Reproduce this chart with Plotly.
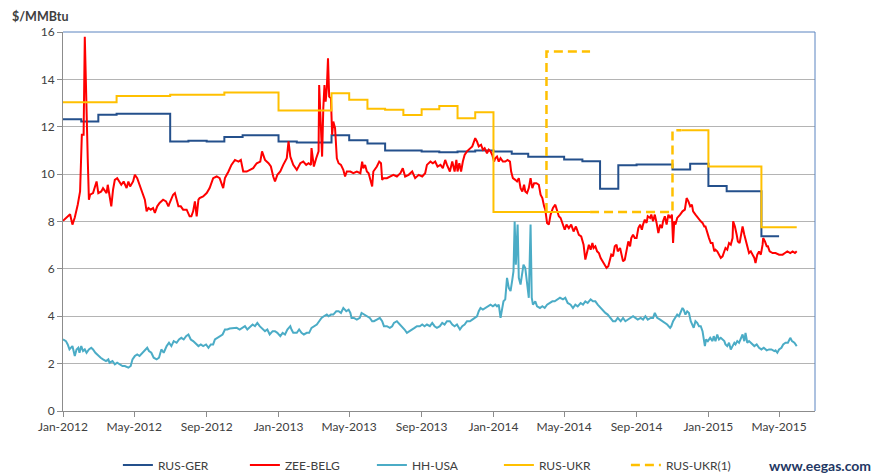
import pandas as pd
import plotly.graph_objects as go

BASE = pd.Timestamp("2012-01-01")

# ---- daily-ish spot series: (days since 1 Jan 2012, $/MMBtu) ----
zee_belg = [
    (0, 8.03), (8, 8.22), (12, 8.31), (16, 7.87), (20, 8.17), (25, 8.71), (29, 9.27), (32, 11.66),
    (35, 11.66), (37, 15.8), (40, 11.66), (42, 10.67), (44, 8.92), (46, 9.13), (51, 9.2), (54, 9.41),
    (57, 9.69), (60, 9.2), (65, 9.27), (68, 9.41), (74, 9.2), (76, 9.55), (79, 9.13), (82, 8.64),
    (85, 9.34), (88, 9.76), (92, 9.83), (95, 9.69), (99, 9.55), (103, 9.69), (108, 9.41), (111, 9.69),
    (114, 9.48), (119, 9.69), (122, 9.97), (126, 9.83), (130, 9.55), (135, 9.27), (139, 8.92), (142, 8.43),
    (145, 8.57), (149, 8.5), (153, 8.57), (156, 8.36), (160, 8.64), (164, 8.78), (170, 8.92), (175, 8.85),
    (179, 8.64), (181, 8.78), (187, 9.13), (190, 9.2), (193, 8.92), (196, 8.64), (200, 8.64), (204, 8.5),
    (210, 8.5), (215, 8.22), (218, 8.22), (221, 8.43), (224, 8.85), (227, 8.22), (230, 8.92), (232, 8.99),
    (238, 9.06), (244, 9.2), (249, 9.41), (255, 9.83), (261, 9.9), (266, 9.83), (272, 9.41), (275, 9.83),
    (281, 10.11), (286, 10.39), (292, 10.6), (298, 10.53), (302, 10.6), (306, 10.11), (312, 10.11), (318, 10.18),
    (323, 10.25), (329, 10.46), (335, 10.53), (338, 10.96), (343, 10.6), (349, 10.46), (353, 10.32), (357, 9.9),
    (360, 9.69), (364, 9.97), (369, 10.11), (374, 10.39), (380, 10.67), (383, 11.38), (386, 10.74), (388, 10.6),
    (391, 10.39), (397, 10.18), (403, 10.46), (408, 10.53), (413, 10.39), (417, 10.46), (421, 10.39), (422, 11.1),
    (425, 10.46), (426, 10.32), (430, 10.67), (434, 10.96), (435, 13.76), (438, 11.38), (440, 10.74), (442, 12.78),
    (444, 13.76), (446, 13.06), (448, 13.62), (450, 14.89), (452, 13.27), (455, 13.2), (457, 11.66), (459, 12.22),
    (462, 11.94), (465, 10.67), (468, 10.46), (472, 10.39), (476, 10.18), (479, 9.9), (482, 10.11), (488, 10.11),
    (493, 10.04), (499, 10.11), (505, 10.04), (508, 10.53), (510, 10.25), (513, 10.39), (516, 10.11), (519, 10.04),
    (522, 9.76), (525, 9.48), (527, 10.11), (533, 10.32), (537, 10.53), (540, 10.46), (542, 9.76), (544, 9.83),
    (550, 9.83), (556, 9.9), (561, 9.97), (567, 9.9), (573, 10.04), (577, 10.25), (581, 9.9), (587, 9.97),
    (593, 10.11), (598, 9.83), (604, 9.97), (610, 9.9), (615, 10.04), (618, 10.39), (624, 10.53), (628, 10.46),
    (632, 10.53), (636, 10.32), (641, 10.39), (645, 10.25), (649, 10.6), (652, 10.39), (657, 10.11), (661, 10.53),
    (665, 10.11), (668, 10.6), (670, 10.11), (673, 10.46), (676, 10.11), (679, 10.53), (682, 10.81), (686, 10.96),
    (691, 11.1), (695, 11.17), (697, 11.31), (700, 11.52), (703, 11.38), (706, 11.17), (710, 11.24), (713, 11.03),
    (716, 11.1), (720, 10.88), (723, 11.03), (726, 10.96), (729, 10.81), (732, 10.53), (734, 10.67), (737, 10.74),
    (740, 10.53), (743, 10.67), (747, 10.53), (751, 10.53), (755, 10.6), (759, 10.53), (761, 10.11), (764, 9.83),
    (768, 9.76), (771, 9.69), (774, 9.83), (777, 9.41), (780, 9.27), (783, 9.55), (785, 9.27), (788, 9.2),
    (791, 9.41), (794, 9.83), (797, 9.41), (800, 9.62), (804, 9.62), (808, 9.55), (811, 9.13), (814, 8.99),
    (817, 8.64), (819, 8.5), (822, 7.94), (825, 7.87), (828, 8.29), (832, 8.57), (836, 8.71), (839, 8.43),
    (842, 8.22), (845, 8.15), (849, 7.87), (852, 7.65), (855, 7.87), (859, 7.72), (863, 7.87), (867, 7.58),
    (871, 7.79), (876, 7.44), (880, 7.37), (884, 7.02), (887, 6.39), (890, 6.74), (893, 7.02), (896, 6.81),
    (899, 7.09), (901, 6.88), (904, 6.95), (907, 6.74), (910, 6.67), (913, 6.46), (916, 6.32), (920, 6.18),
    (923, 6.04), (926, 6.11), (929, 6.46), (931, 6.6), (934, 6.53), (937, 6.95), (940, 7.02), (942, 6.74),
    (946, 6.88), (949, 6.6), (951, 6.32), (954, 6.39), (957, 6.88), (960, 7.16), (963, 6.95), (965, 7.3),
    (968, 7.44), (971, 7.3), (974, 7.3), (977, 7.72), (980, 7.87), (983, 7.65), (985, 7.87), (988, 8.08),
    (991, 7.94), (993, 8.22), (997, 8.15), (999, 8.29), (1002, 8.01), (1005, 8.29), (1008, 7.94), (1011, 7.51),
    (1014, 7.87), (1017, 7.72), (1019, 8.01), (1022, 8.22), (1025, 7.87), (1028, 8.29), (1031, 8.15), (1034, 8.29),
    (1036, 7.09), (1038, 8.01), (1040, 7.87), (1043, 8.15), (1048, 8.29), (1052, 8.43), (1056, 8.5), (1059, 8.99),
    (1062, 8.85), (1065, 8.64), (1068, 8.71), (1070, 8.43), (1074, 8.29), (1078, 8.15), (1083, 8.01), (1086, 7.94),
    (1089, 7.79), (1091, 7.79), (1094, 7.51), (1097, 7.3), (1100, 7.09), (1103, 7.09), (1106, 6.74), (1108, 6.81),
    (1111, 6.74), (1114, 6.6), (1117, 6.46), (1120, 6.53), (1123, 6.74), (1125, 6.88), (1128, 6.81), (1131, 7.09),
    (1134, 7.02), (1137, 7.3), (1138, 8.01), (1141, 7.79), (1144, 7.44), (1146, 7.16), (1149, 7.09), (1152, 7.58),
    (1154, 7.79), (1157, 7.44), (1159, 7.23), (1162, 6.95), (1165, 6.67), (1168, 6.74), (1171, 6.6), (1174, 6.46),
    (1176, 6.25), (1179, 6.6), (1182, 6.74), (1185, 6.6), (1188, 7.02), (1189, 7.3), (1192, 7.16), (1195, 6.95),
    (1197, 6.95), (1200, 6.74), (1205, 6.67), (1210, 6.67), (1216, 6.6), (1222, 6.6), (1226, 6.67), (1230, 6.74),
    (1235, 6.67), (1239, 6.74), (1243, 6.67), (1246, 6.74),
]

hh_usa = [
    (0, 3.02), (5, 2.95), (8, 2.81), (11, 2.6), (16, 2.74), (20, 2.32), (23, 2.6), (26, 2.67), (28, 2.46),
    (31, 2.74), (34, 2.53), (37, 2.6), (40, 2.46), (44, 2.6), (48, 2.67), (51, 2.6), (55, 2.46), (60, 2.32),
    (64, 2.25), (68, 2.18), (73, 2.11), (77, 2.18), (79, 2.04), (84, 2.11), (88, 1.97), (92, 2.04), (96, 1.97),
    (101, 1.9), (105, 1.9), (111, 1.83), (115, 1.9), (118, 2.18), (122, 2.32), (126, 2.39), (130, 2.32),
    (135, 2.46), (139, 2.6), (143, 2.67), (146, 2.53), (150, 2.46), (154, 2.25), (159, 2.18), (163, 2.25),
    (167, 2.6), (171, 2.46), (176, 2.74), (180, 2.88), (184, 2.74), (188, 2.95), (193, 2.88), (197, 3.02),
    (201, 3.09), (205, 3.02), (209, 3.16), (213, 3.23), (217, 3.02), (221, 2.95), (226, 2.81), (230, 2.74),
    (234, 2.81), (238, 2.74), (243, 2.81), (247, 2.67), (251, 2.81), (255, 2.81), (258, 3.02), (262, 3.09),
    (266, 3.16), (271, 3.23), (275, 3.44), (279, 3.44), (283, 3.48), (289, 3.51), (295, 3.51), (300, 3.44),
    (305, 3.51), (309, 3.58), (313, 3.44), (318, 3.58), (322, 3.65), (326, 3.58), (330, 3.72), (334, 3.58),
    (339, 3.44), (343, 3.37), (347, 3.44), (351, 3.23), (356, 3.37), (360, 3.37), (364, 3.3), (369, 3.16),
    (373, 3.3), (377, 3.23), (381, 3.44), (386, 3.58), (388, 3.44), (391, 3.3), (397, 3.3), (401, 3.44),
    (405, 3.3), (409, 3.23), (414, 3.3), (418, 3.3), (422, 3.51), (428, 3.58), (431, 3.65), (435, 3.79),
    (439, 3.93), (443, 4.0), (448, 4.07), (451, 4.0), (455, 4.07), (459, 4.07), (464, 4.21), (468, 4.21),
    (472, 4.14), (476, 4.35), (481, 4.21), (485, 4.28), (488, 4.14), (490, 3.93), (494, 3.93), (499, 3.86),
    (504, 3.93), (507, 4.14), (511, 4.07), (516, 4.0), (521, 3.93), (525, 3.79), (528, 3.79), (533, 3.86),
    (538, 3.93), (542, 3.79), (545, 3.58), (550, 3.58), (555, 3.51), (559, 3.58), (562, 3.72), (567, 3.79),
    (572, 3.65), (576, 3.58), (580, 3.44), (584, 3.3), (589, 3.37), (593, 3.44), (597, 3.51), (601, 3.58),
    (606, 3.58), (610, 3.65), (614, 3.58), (618, 3.65), (623, 3.58), (627, 3.72), (631, 3.58), (635, 3.51),
    (640, 3.58), (644, 3.72), (648, 3.65), (652, 3.79), (657, 3.79), (661, 3.65), (665, 3.58), (669, 3.65),
    (674, 3.44), (678, 3.58), (682, 3.65), (686, 3.79), (691, 3.79), (695, 3.86), (699, 3.93), (703, 4.0),
    (706, 4.21), (709, 4.35), (713, 4.28), (717, 4.35), (721, 4.42), (726, 4.49), (730, 4.42), (734, 4.49),
    (737, 4.42), (740, 4.49), (743, 3.93), (746, 4.49), (748, 4.63), (751, 4.71), (754, 5.62), (757, 5.2),
    (760, 5.06), (763, 5.55), (765, 5.9), (767, 8.0), (769, 6.18), (772, 7.87), (774, 5.62), (777, 5.34),
    (780, 5.9), (782, 6.18), (785, 6.04), (788, 5.34), (791, 4.78), (794, 7.87), (796, 4.78), (798, 4.49),
    (802, 4.63), (805, 4.42), (810, 4.35), (814, 4.42), (818, 4.35), (822, 4.49), (827, 4.56), (831, 4.63),
    (835, 4.63), (839, 4.71), (844, 4.78), (849, 4.71), (853, 4.78), (857, 4.56), (862, 4.49), (866, 4.35),
    (870, 4.49), (874, 4.42), (879, 4.56), (883, 4.49), (887, 4.63), (891, 4.56), (896, 4.71), (900, 4.63),
    (904, 4.63), (908, 4.49), (913, 4.35), (917, 4.21), (921, 4.14), (925, 4.07), (930, 3.93), (934, 3.79),
    (938, 3.79), (942, 3.93), (947, 3.79), (951, 3.93), (955, 3.79), (959, 3.86), (964, 3.93), (968, 4.0),
    (972, 3.93), (976, 3.86), (981, 3.93), (985, 3.86), (989, 4.0), (993, 3.86), (998, 3.93), (1002, 3.93),
    (1005, 4.14), (1009, 3.93), (1014, 3.86), (1018, 3.79), (1022, 3.72), (1026, 3.65), (1031, 3.51),
    (1033, 3.58), (1036, 3.79), (1040, 3.93), (1043, 4.07), (1046, 4.0), (1049, 4.21), (1052, 4.35),
    (1054, 4.28), (1057, 4.07), (1060, 4.21), (1063, 4.14), (1066, 3.79), (1069, 3.58), (1071, 3.51),
    (1074, 3.79), (1077, 3.72), (1080, 3.58), (1083, 3.58), (1086, 3.37), (1088, 3.09), (1090, 2.74),
    (1092, 3.02), (1095, 2.95), (1099, 3.09), (1103, 2.95), (1105, 3.16), (1108, 2.95), (1111, 3.23),
    (1114, 3.02), (1117, 3.09), (1120, 3.02), (1123, 2.95), (1125, 2.81), (1128, 2.74), (1131, 2.88),
    (1134, 2.6), (1137, 2.74), (1140, 2.88), (1142, 2.81), (1145, 2.95), (1148, 2.88), (1151, 3.09),
    (1154, 3.23), (1157, 2.95), (1159, 3.3), (1162, 2.88), (1165, 2.95), (1168, 2.88), (1171, 2.81),
    (1174, 2.74), (1178, 2.81), (1182, 2.67), (1186, 2.6), (1190, 2.67), (1195, 2.56), (1199, 2.6),
    (1203, 2.6), (1208, 2.53), (1210, 2.56), (1213, 2.46), (1216, 2.6), (1220, 2.67), (1223, 2.81),
    (1227, 2.88), (1231, 2.88), (1235, 3.09), (1238, 2.95), (1242, 2.88), (1246, 2.74),
]

# ---- contract prices (step series: date from which the price applies) ----
rus_ger_dates = ["2012-01-01", "2012-02-01", "2012-03-01", "2012-04-01", "2012-07-01", "2012-08-01",
                 "2012-09-01", "2012-10-01", "2012-11-01", "2013-01-01", "2013-02-01", "2013-04-01",
                 "2013-05-01", "2013-06-01", "2013-07-01", "2013-09-01", "2013-10-01", "2013-11-01",
                 "2013-12-01", "2014-01-01", "2014-02-01", "2014-03-01", "2014-05-01", "2014-06-01",
                 "2014-07-01", "2014-08-01", "2014-09-01", "2014-11-01", "2014-12-01", "2015-01-01",
                 "2015-02-01", "2015-04-01", "2015-05-01"]
rus_ger_vals = [12.32, 12.22, 12.51, 12.55, 11.38, 11.41, 11.38, 11.57, 11.64, 11.38, 11.34, 11.64,
                11.43, 11.29, 11.00, 10.96, 10.92, 10.96, 11.00, 10.96, 10.86, 10.73, 10.62, 10.54,
                9.38, 10.37, 10.41, 10.19, 10.44, 9.50, 9.28, 7.38, 7.38]

rus_ukr_dates = ["2012-01-01", "2012-04-01", "2012-07-01", "2012-10-01", "2013-01-01", "2013-04-01",
                 "2013-05-01", "2013-06-01", "2013-07-01", "2013-08-01", "2013-09-01", "2013-10-01",
                 "2013-11-01", "2013-12-01", "2014-01-01", "2014-06-14", None, "2014-11-16",
                 "2015-01-01", "2015-04-01", "2015-05-31"]
rus_ukr_vals = [13.03, 13.30, 13.35, 13.45, 12.69, 13.41, 13.14, 12.76, 12.72, 12.50, 12.74, 12.88,
                12.36, 12.61, 8.40, 8.40, None, 11.85, 10.32, 7.76, 7.76]

rus_ukr1_dates = ["2014-04-01", "2014-04-01", "2014-06-14", None, "2014-06-14", "2014-11-01",
                  "2014-11-01", "2014-11-16"]
rus_ukr1_vals = [8.40, 15.18, 15.18, None, 8.40, 8.40, 11.85, 11.85]

tick_start = "2012-01-01"
x_range = ["2012-01-01", "2015-07-01"]


def to_dates(pairs):
    return BASE + pd.to_timedelta([p[0] for p in pairs], unit="D")


FONT = "Lato, 'Open Sans', sans-serif"
TXT = "#404040"

fig = go.Figure()
fig.add_trace(go.Scatter(x=pd.to_datetime(rus_ger_dates), y=rus_ger_vals, name="RUS-GER",
                         mode="lines", line=dict(color="#24508C", width=2, shape="hv")))
fig.add_trace(go.Scatter(x=to_dates(zee_belg), y=[p[1] for p in zee_belg], name="ZEE-BELG",
                         mode="lines", line=dict(color="#FF0000", width=2)))
fig.add_trace(go.Scatter(x=to_dates(hh_usa), y=[p[1] for p in hh_usa], name="HH-USA",
                         mode="lines", line=dict(color="#4BACC6", width=2)))
fig.add_trace(go.Scatter(x=rus_ukr_dates, y=rus_ukr_vals, name="RUS-UKR", connectgaps=False,
                         mode="lines", line=dict(color="#FFC000", width=2, shape="hv")))
fig.add_trace(go.Scatter(x=rus_ukr1_dates, y=rus_ukr1_vals, name="RUS-UKR(1)", connectgaps=False,
                         mode="lines", line=dict(color="#FFC000", width=2.5, shape="hv", dash="9px,5px")))

fig.update_layout(
    width=879, height=473,
    margin=dict(l=55, r=72, t=24, b=70, autoexpand=False),
    paper_bgcolor="white", plot_bgcolor="white",
    font=dict(family=FONT, size=12, color=TXT),
    showlegend=True,
    legend=dict(orientation="h", x=0.073, xanchor="left", yref="container", y=0.034,
                yanchor="middle", entrywidth=82, entrywidthmode="pixels",
                font=dict(size=12, color=TXT), bgcolor="rgba(0,0,0,0)", tracegroupgap=0),
    xaxis=dict(type="date", range=x_range, tick0=tick_start, dtick="M4", tickformat="%b-%Y",
               ticks="outside", ticklen=5, tickcolor="#8C8C8C", showline=True, linecolor="#8C8C8C",
               linewidth=1, showgrid=False, zeroline=False, automargin=False,
               tickfont=dict(size=12, color=TXT)),
    yaxis=dict(range=[0, 16], dtick=2, ticks="outside", ticklen=5, tickcolor="#8C8C8C",
               showline=True, linecolor="#8C8C8C", linewidth=1, showgrid=True, automargin=False,
               gridcolor="#B4B4B4", gridwidth=1, zeroline=False, tickfont=dict(size=12, color=TXT)),
    shapes=[
        dict(type="line", xref="paper", yref="paper", x0=0, x1=1, y0=1, y1=1,
             line=dict(color="#5B84C0", width=1), layer="above"),
        dict(type="line", xref="paper", yref="paper", x0=1, x1=1, y0=0, y1=1,
             line=dict(color="#5B84C0", width=1), layer="above"),
    ],
    annotations=[
        dict(text="<b>$/MMBtu</b>", xref="paper", yref="paper", x=-0.069, y=1.063,
             xanchor="left", yanchor="top", showarrow=False, borderpad=0,
             font=dict(size=12.5, color=TXT)),
        dict(text="<b>www.eegas.com</b>", xref="paper", yref="paper", x=1.077, y=-0.1425,
             xanchor="right", yanchor="middle", showarrow=False, font=dict(size=14, color="#1F3864")),
    ],
)

fig.write_html("out.html")
